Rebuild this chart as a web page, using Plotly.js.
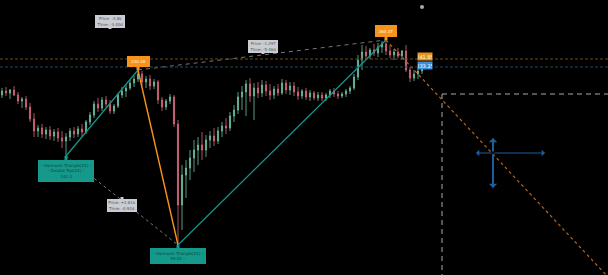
<!DOCTYPE html>
<html>
<head>
<meta charset="utf-8">
<script src="https://cdn.plot.ly/plotly-3.0.1.min.js"></script>
<style>html,body{margin:0;padding:0;background:#000;}#chart{width:608px;height:275px;}</style>
</head>
<body>
<div id="chart"></div>
<script>
// ---- candle data (price units) ----
const candleOpen = [205,209,207,210,205,199,201,193,181,169,172,166,170,164,168,162,159,163,169,166,171,168,178,185,196,192,200,196,189,194,205,209,212,217,221,226,218,221,214,218,200,193,199,203,176,95,125,132,142,150,155,150,160,164,159,169,174,172,184,190,203,208,216,204,212,207,215,209,205,211,207,217,210,214,208,204,209,203,207,202,205,202,205,209,206,204,206,209,212,223,240,248,244,250,247,253,256,249,245,248,244,249,230,222,226,229];
const candleHigh = [212,213,211,214,208,203,204,197,187,175,176,173,174,171,172,169,167,172,173,174,176,180,188,199,202,203,204,200,196,207,213,215,220,224,230,229,224,225,221,220,203,201,206,205,180,135,140,150,160,163,168,165,169,172,173,178,182,188,195,208,214,220,222,217,218,220,219,216,214,216,221,220,218,218,213,211,212,210,209,208,208,207,211,212,209,208,211,214,226,245,255,254,252,256,257,259,260,255,251,252,250,255,233,230,232,236];
const candleLow = [202,204,201,204,196,192,190,178,163,163,162,161,160,159,158,152,144,159,162,163,164,166,175,182,188,189,193,186,186,192,202,203,210,213,218,214,212,210,211,196,189,190,196,173,55,70,102,120,128,135,140,143,152,154,156,163,166,169,178,186,190,184,198,180,202,203,204,200,201,204,205,206,205,204,200,201,200,199,200,199,199,199,202,203,201,202,203,206,210,220,230,240,241,244,243,247,245,242,240,242,240,228,218,219,221,226];
const candleClose = [209,207,210,205,199,201,193,181,169,172,166,170,164,168,162,159,163,169,166,171,168,178,185,196,192,200,196,189,194,205,209,212,217,221,226,218,221,214,218,200,193,199,203,176,95,125,132,142,150,155,150,160,164,159,169,174,172,184,190,203,208,216,204,212,207,215,209,205,211,207,217,210,214,208,204,209,203,207,202,205,202,205,209,206,204,206,209,212,223,240,248,244,250,247,253,256,249,245,248,244,249,230,222,226,229,234];
const candleIdx = candleClose.map((_, i) => i);

// ---- pattern pivots ----
const pivotIdx = [16, 34, 44, 96];
const pivotPrice = [144, 230, 55, 260];
const pivotLabels = [
  '◦ Harmonic Triangle(24) ◦<br>◦ Double Top(24) ◦<br>144.3',
  '230.48',
  '◦ Harmonic Triangle(24) ◦<br>55.02 ◦',
  '260.37'
];

// ---- projection / levels ----
const projIdx = [96, 151.5];
const projPrice = [260, 23];
const levelPrices = [241, 233];
const levelLabels = ['241.85', '233.25'];
const targetIdx = 110, targetPrice = 206;
const crossCenter = [122.75, 147];
const crossVert = [162, 112];
const crossHoriz = [118.5, 135.75];
const dotPoint = [105, 293];

// ---- measurement labels ----
const measureIdx = [27, 65.25, 30];
const measurePrice = [271, 246, 103];
const measureText = ['Price: -3.8k<br>Time: -3.40d', 'Price: -1.297<br>Time: -5.46d', 'Price: +1.61k<br>Time: -0.92d'];

const teal = '#14998a', orange = '#f7931a';
const traces = [
  {type: 'scatter', mode: 'lines', x: [pivotIdx[0], pivotIdx[2]], y: [pivotPrice[0], pivotPrice[2]],
   line: {color: '#777', width: 1, dash: '3px,3px'}, hoverinfo: 'skip'},
  {type: 'scatter', mode: 'lines', x: [pivotIdx[1], pivotIdx[3]], y: [pivotPrice[1], pivotPrice[3]],
   line: {color: '#777', width: 1, dash: '4px,4px'}, hoverinfo: 'skip'},
  {type: 'candlestick', x: candleIdx, open: candleOpen, high: candleHigh, low: candleLow, close: candleClose,
   increasing: {line: {color: '#6fc0a4', width: 0.8}, fillcolor: '#6fc0a4'},
   decreasing: {line: {color: '#d9687f', width: 0.8}, fillcolor: '#d9687f'},
   whiskerwidth: 0, hoverinfo: 'skip'},
  {type: 'scatter', mode: 'lines', x: [pivotIdx[0], pivotIdx[1]], y: [pivotPrice[0], pivotPrice[1]],
   line: {color: teal, width: 1.2}, hoverinfo: 'skip'},
  {type: 'scatter', mode: 'lines', x: [pivotIdx[1], pivotIdx[2]], y: [pivotPrice[1], pivotPrice[2]],
   line: {color: orange, width: 1.4}, hoverinfo: 'skip'},
  {type: 'scatter', mode: 'lines', x: [pivotIdx[2], pivotIdx[3]], y: [pivotPrice[2], pivotPrice[3]],
   line: {color: teal, width: 1.2}, hoverinfo: 'skip'},
  {type: 'scatter', mode: 'lines', x: projIdx, y: projPrice,
   line: {color: '#b8651a', width: 1.2, dash: 'dot'}, hoverinfo: 'skip'},
  {type: 'scatter', mode: 'markers', x: [dotPoint[0]], y: [dotPoint[1]],
   marker: {color: '#aaa', size: 4}, hoverinfo: 'skip'}
];

const shapes = [
  {type: 'line', xref: 'paper', x0: 0, x1: 1, yref: 'y', y0: levelPrices[0], y1: levelPrices[0],
   line: {color: '#6b4a1e', width: 1, dash: '3px,2px'}},
  {type: 'line', xref: 'paper', x0: 0, x1: 1, yref: 'y', y0: levelPrices[1], y1: levelPrices[1],
   line: {color: '#1f4f58', width: 1, dash: '3px,2px'}},
  {type: 'line', xref: 'x', x0: targetIdx, x1: targetIdx, yref: 'y', y0: targetPrice, y1: 0,
   line: {color: '#aaa', width: 1, dash: '5px,4px'}},
  {type: 'line', xref: 'x', x0: targetIdx, x1: 160, yref: 'y', y0: targetPrice, y1: targetPrice,
   line: {color: '#aaa', width: 1, dash: '5px,4px'}}
];

const annotations = [];
// crosshair arrows
const blue = '#1d5f9c';
[[crossCenter[0], crossVert[0], 2, 0.7], [crossCenter[0], crossVert[1], 2, 0.7],
 [crossHoriz[0], crossCenter[1], 1, 1.1], [crossHoriz[1], crossCenter[1], 1, 1.1]].forEach(p => {
  annotations.push({x: p[0], y: p[1], ax: crossCenter[0], ay: crossCenter[1], axref: 'x', ayref: 'y',
    xref: 'x', yref: 'y', showarrow: true, arrowhead: 1, arrowsize: p[3], arrowwidth: p[2], arrowcolor: blue, text: ''});
});
// pivot labels
const pivotStyle = [
  {bg: teal, fc: '#0b4a43', ay: 14.5, w: 54, h: 20},
  {bg: orange, fc: '#fff3e0', ay: -9, w: 21, h: 9},
  {bg: teal, fc: '#0b4a43', ay: 10.5, w: 54, h: 14},
  {bg: orange, fc: '#fff3e0', ay: -9.5, w: 20, h: 10}
];
pivotIdx.forEach((px, i) => {
  const s = pivotStyle[i];
  annotations.push({x: px, y: pivotPrice[i], xref: 'x', yref: 'y', text: pivotLabels[i],
    showarrow: true, ax: 0, ay: s.ay, arrowhead: 0, arrowwidth: 3, arrowcolor: s.bg, standoff: 0,
    bgcolor: s.bg, bordercolor: s.bg, borderpad: 0, width: s.w, height: s.h,
    font: {family: 'DejaVu Sans', size: 4, color: s.fc}});
});
// measurement labels
const measureAy = [-8, -8, 8];
measureIdx.forEach((mx, i) => {
  annotations.push({x: mx, y: measurePrice[i], xref: 'x', yref: 'y', text: measureText[i],
    showarrow: true, ax: 0, ay: measureAy[i], arrowhead: 0, arrowwidth: 3, arrowcolor: '#c9ccd2', standoff: 0,
    bgcolor: '#c9ccd2', bordercolor: '#c9ccd2', borderpad: 0, width: 28, height: 11,
    font: {family: 'DejaVu Sans', size: 4, color: '#555'}});
});
// level labels
const levelColors = ['#e8921c', '#3b8fd8'];
const levelShift = [2.5, 2];
levelPrices.forEach((lp, i) => {
  annotations.push({x: 105.75, y: lp, xref: 'x', yref: 'y', yshift: levelShift[i], text: levelLabels[i],
    showarrow: false, bgcolor: levelColors[i], borderpad: 0, width: 14, height: 7,
    font: {family: 'DejaVu Sans', size: 5, color: '#fff'}});
});

const layout = {
  width: 608, height: 275,
  margin: {l: 0, r: 0, t: 0, b: 0},
  paper_bgcolor: '#000', plot_bgcolor: '#000',
  showlegend: false,
  boxgap: 0.6,
  xaxis: {range: [-0.5, 151.5], visible: false, rangeslider: {visible: false}, fixedrange: true},
  yaxis: {range: [25, 300], visible: false, fixedrange: true},
  shapes: shapes,
  annotations: annotations,
  hovermode: false
};
Plotly.newPlot('chart', traces, layout, {displayModeBar: false, staticPlot: true});
</script>
</body>
</html>
